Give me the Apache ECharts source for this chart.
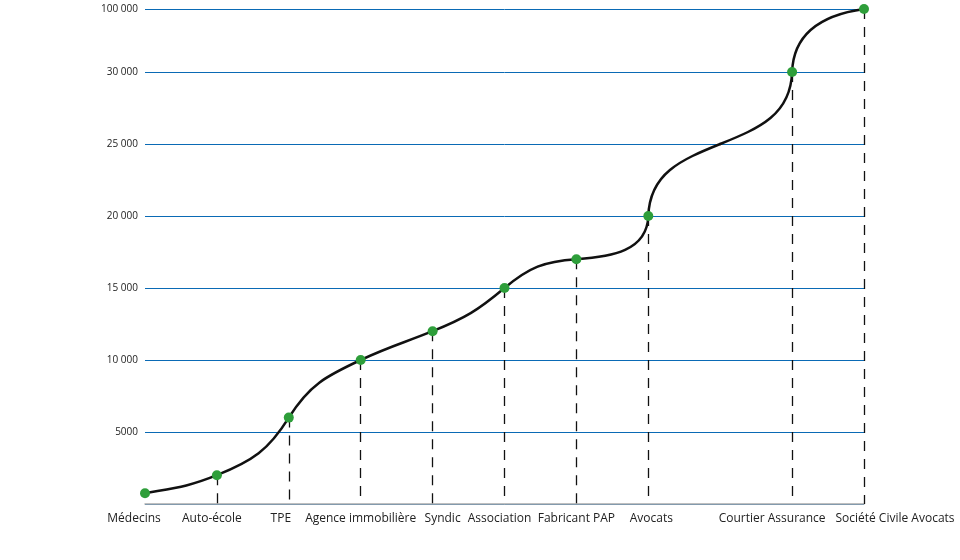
<!DOCTYPE html>
<html>
<head>
<meta charset="utf-8">
<script src="https://cdn.jsdelivr.net/npm/echarts@6/dist/echarts.min.js"></script>
<style>html,body{margin:0;padding:0;background:#fff}#c{width:960px;height:560px}</style>
</head>
<body>
<div id="c"></div>
<script>
// ---- data ----
const categories = ['Médecins', 'Auto-école', 'TPE', 'Agence immobilière', 'Syndic', 'Association', 'Fabricant PAP', 'Avocats', '', 'Courtier Assurance', 'Société Civile Avocats'];
const values = [750, 2000, 6000, 10000, 12000, 15000, 17000, 20000, 25000, 30000, 100000];
const showMarker = [true, true, true, true, true, true, true, true, false, true, true];
const showDrop = [false, true, true, true, true, true, true, true, false, true, true];
const yTickLabels = ['', '5000', '10 000', '15 000', '20 000', '25 000', '30 000', '100 000'];

// ---- broken-axis scale: linear up to 30 000, then compressed top segment ----
const BREAK = 30000, TOP = 100000, TOP_POS = 34375;
function pos(v) { return v <= BREAK ? v : BREAK + (v - BREAK) / (TOP - BREAK) * (TOP_POS - BREAK); }

// curve style: tangent angle (degrees, screen) at each point, handle fraction
const tangentDeg = [10, 22, 58, 25, 22, 40, 4, 88, 22, 88, 8];
const HANDLE = 0.42;

// label shifts (style)
const labelShift = [-11, -5, -8, 0, 10, -5, 0, 3, 0, -20, 31];
const rich = {};
labelShift.forEach((s, i) => {
  rich['s' + i] = {
    fontFamily: 'Open Sans', fontSize: 12, color: '#222',
    padding: s >= 0 ? [0, 0, 0, 2 * s] : [0, -2 * s, 0, 0]
  };
});

const pointData = [];
const dropLines = [];
values.forEach((v, i) => {
  if (showMarker[i]) pointData.push([i, pos(v)]);
  if (showDrop[i]) dropLines.push([{ coord: [i, pos(v)] }, { coord: [i, 0] }]);
});
const curveData = values.map((v, i) => [i, pos(v)]);

function renderSegment(params, api) {
  const i = params.dataIndex;
  if (i >= values.length - 1) return null;
  const p0 = api.coord([i, pos(values[i])]);
  const p1 = api.coord([i + 1, pos(values[i + 1])]);
  const L = Math.hypot(p1[0] - p0[0], p1[1] - p0[1]) * HANDLE;
  const a0 = tangentDeg[i] * Math.PI / 180, a1 = tangentDeg[i + 1] * Math.PI / 180;
  return {
    type: 'bezierCurve',
    shape: {
      x1: p0[0], y1: p0[1], x2: p1[0], y2: p1[1],
      cpx1: p0[0] + Math.cos(a0) * L, cpy1: p0[1] - Math.sin(a0) * L,
      cpx2: p1[0] - Math.cos(a1) * L, cpy2: p1[1] + Math.sin(a1) * L
    },
    style: { stroke: '#111', lineWidth: 2.5, fill: null, lineCap: 'round' }
  };
}

const chart = echarts.init(document.getElementById('c'), null, { renderer: 'canvas' });
chart.setOption({
  animation: false,
  backgroundColor: '#fff',
  grid: { left: 145, right: 96, top: 9, bottom: 56, containLabel: false },
  xAxis: {
    type: 'category',
    data: categories,
    boundaryGap: false,
    axisLine: { lineStyle: { color: '#aaa', width: 1.5 } },
    axisTick: { show: false },
    axisLabel: {
      interval: 0, margin: 9,
      formatter: (val, idx) => val ? '{s' + idx + '|' + val + '}' : '',
      rich: rich
    },
    splitLine: { show: false }
  },
  yAxis: {
    type: 'value',
    min: 0, max: TOP_POS, interval: 5000,
    axisLine: { show: false },
    axisTick: { show: false },
    axisLabel: {
      margin: 7, fontFamily: 'Open Sans', fontSize: 10, color: '#222',
      showMaxLabel: true,
      formatter: (v, i) => yTickLabels[i] !== undefined ? yTickLabels[i] : ''
    },
    splitLine: { show: true, lineStyle: { color: '#0a6ab5', width: 1 } }
  },
  series: [{
    type: 'custom',
    data: curveData,
    encode: { x: 0, y: 1 },
    renderItem: renderSegment,
    silent: true,
    z: 4
  }, {
    type: 'scatter',
    data: pointData,
    symbol: 'circle',
    symbolSize: 10,
    itemStyle: { color: '#2e9e3a', opacity: 1 },
    z: 6,
    markLine: {
      silent: true,
      symbol: ['none', 'none'],
      label: { show: false },
      lineStyle: { color: '#111', width: 1.3, type: [10, 8] },
      data: dropLines,
      z: 2
    }
  }]
});
</script>
</body>
</html>
